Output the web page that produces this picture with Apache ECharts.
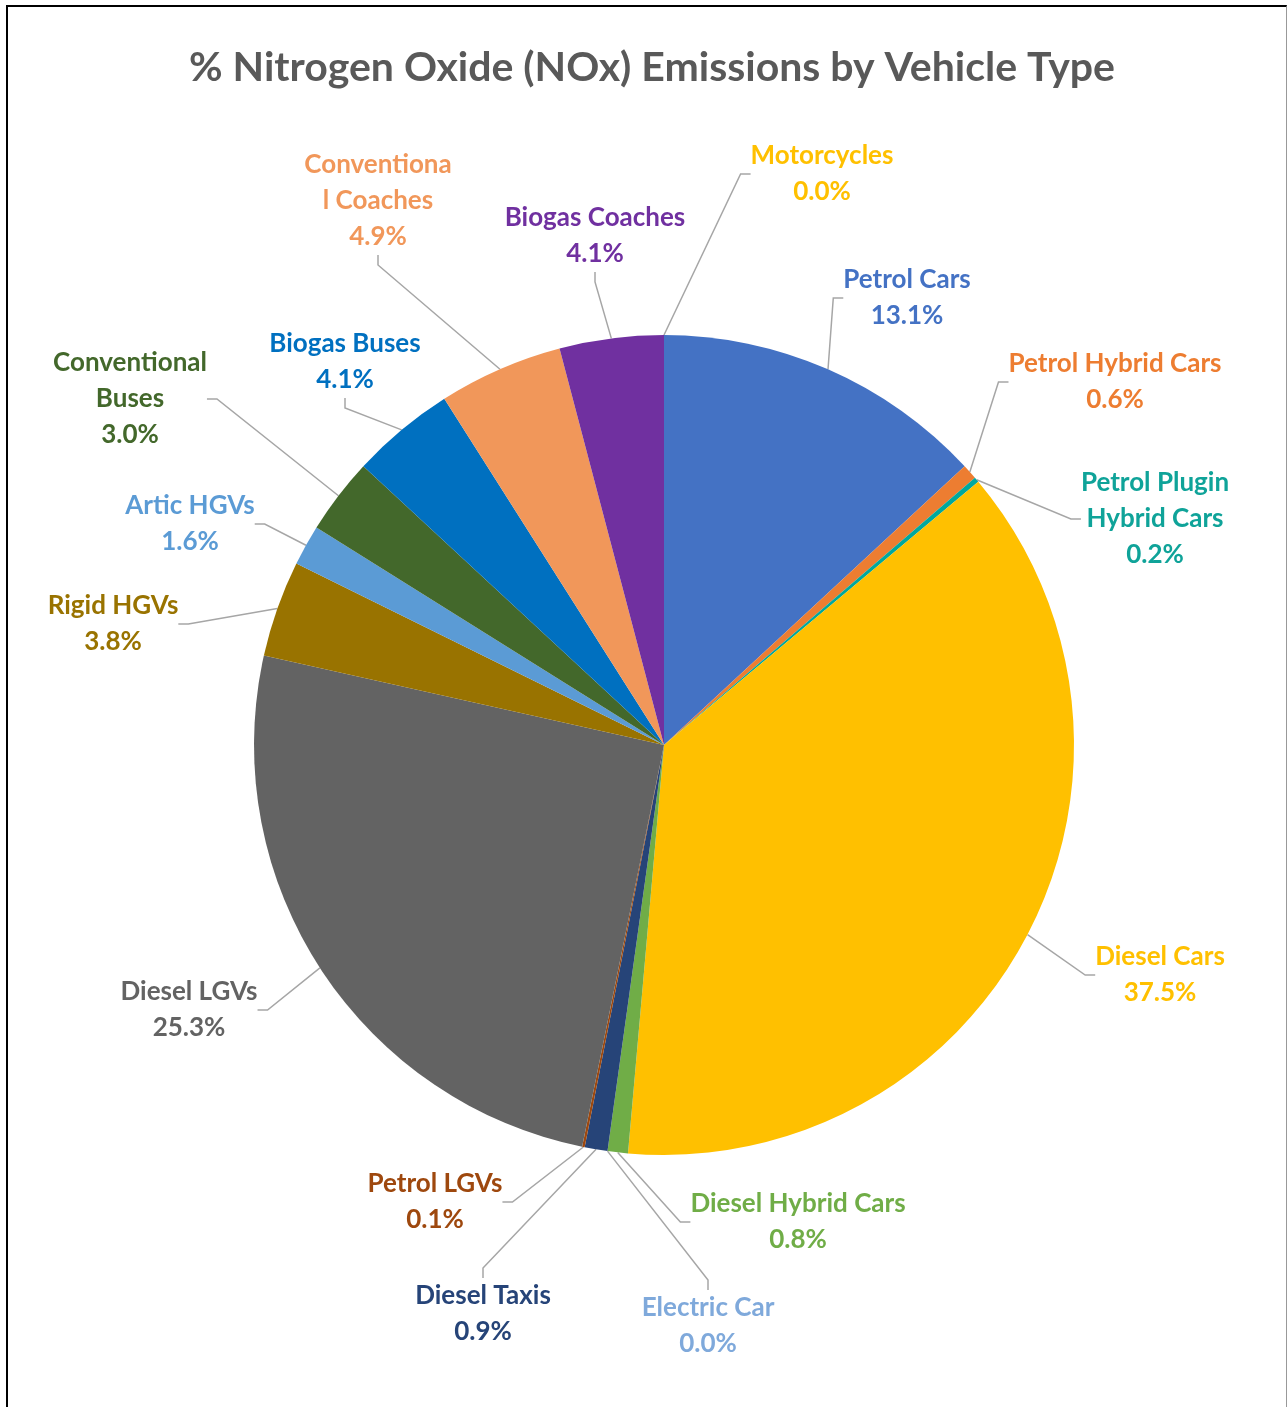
<!DOCTYPE html>
<html>
<head>
<meta charset="utf-8">
<script src="https://cdn.jsdelivr.net/npm/echarts@6/dist/echarts.min.js"></script>
<style>
  html, body { margin: 0; padding: 0; background: #fff; }
  #chart { position: absolute; left: 0; top: 0; width: 1287px; height: 1407px; }
  #frame {
    position: absolute; left: 6px; top: 5px; width: 1278px; height: 1410px;
    border-left: 2px solid #000; border-top: 2px solid #000; border-right: 1px solid #999;
    pointer-events: none;
  }
</style>
</head>
<body>
<div id="chart"></div>
<div id="frame"></div>
<script>
// clockwise from 12 o'clock
const categories = [
  'Petrol Cars', 'Petrol Hybrid Cars', 'Petrol Plugin Hybrid Cars', 'Diesel Cars',
  'Diesel Hybrid Cars', 'Electric Car', 'Diesel Taxis', 'Petrol LGVs', 'Diesel LGVs',
  'Rigid HGVs', 'Artic HGVs', 'Conventional Buses', 'Biogas Buses',
  'Conventional Coaches', 'Biogas Coaches', 'Motorcycles'
];
const shares = [13.1, 0.6, 0.2, 37.5, 0.8, 0.0, 0.9, 0.1, 25.3, 3.8, 1.6, 3.0, 4.1, 4.9, 4.1, 0.0];

const colors = [
  '#4472C4', '#ED7D31', '#00A89D', '#FFC000', '#70AD47', '#9DC3E6', '#264478', '#9E480E',
  '#636363', '#997300', '#5B9BD5', '#43682B', '#0070C0', '#F1975A', '#7030A0', '#FFC000'
];
const textColors = colors.slice();
textColors[5] = '#7FA9DB';
textColors[2] = '#0FA399';

// how Excel wrapped the long names
const wrapped = {
  'Petrol Plugin Hybrid Cars': 'Petrol Plugin\nHybrid Cars',
  'Conventional Buses': 'Conventional\nBuses',
  'Conventional Coaches': 'Conventiona\nl Coaches'
};

// label centres (px), same order as categories
const labelPos = [
  [907, 298], [1115, 382], [1155, 519], [1160, 975],
  [798, 1222], [708, 1326], [483, 1314], [435, 1202], [189, 1010],
  [113, 624], [190, 524], [130, 399], [345, 362],
  [378, 201], [595, 236], [822, 174]
];

const chart = echarts.init(document.getElementById('chart'));

chart.setOption({
  backgroundColor: '#ffffff',
  title: {
    text: '% Nitrogen Oxide (NOx) Emissions by Vehicle Type',
    left: 647,
    top: 42,
    textAlign: 'center',
    textStyle: {
      fontFamily: 'Lato',
      fontWeight: 'bold',
      fontSize: 41,
      color: '#595959'
    }
  },
  series: [
    {
      type: 'pie',
      center: [664, 745],
      radius: 410,
      startAngle: 90,
      clockwise: true,
      animation: false,
      itemStyle: { borderWidth: 0 },
      label: {
        show: true,
        position: 'outside',
        overflow: 'none',
        fontFamily: 'Lato',
        fontWeight: 'bold',
        fontSize: 26,
        lineHeight: 36,
        align: 'center',
        formatter: p => (wrapped[p.name] || p.name) + '\n' + p.value.toFixed(1) + '%'
      },
      labelLine: {
        show: true,
        length: 20,
        length2: 10,
        smooth: false,
        lineStyle: { color: '#A6A6A6', width: 1.5 }
      },
      labelLayout: params => ({
        x: labelPos[params.dataIndex][0],
        y: labelPos[params.dataIndex][1],
        align: 'center',
        verticalAlign: 'middle'
      }),
      data: categories.map((name, i) => ({
        name: name,
        value: shares[i],
        itemStyle: { color: colors[i] },
        label: { color: textColors[i] }
      }))
    }
  ]
});
</script>
</body>
</html>
